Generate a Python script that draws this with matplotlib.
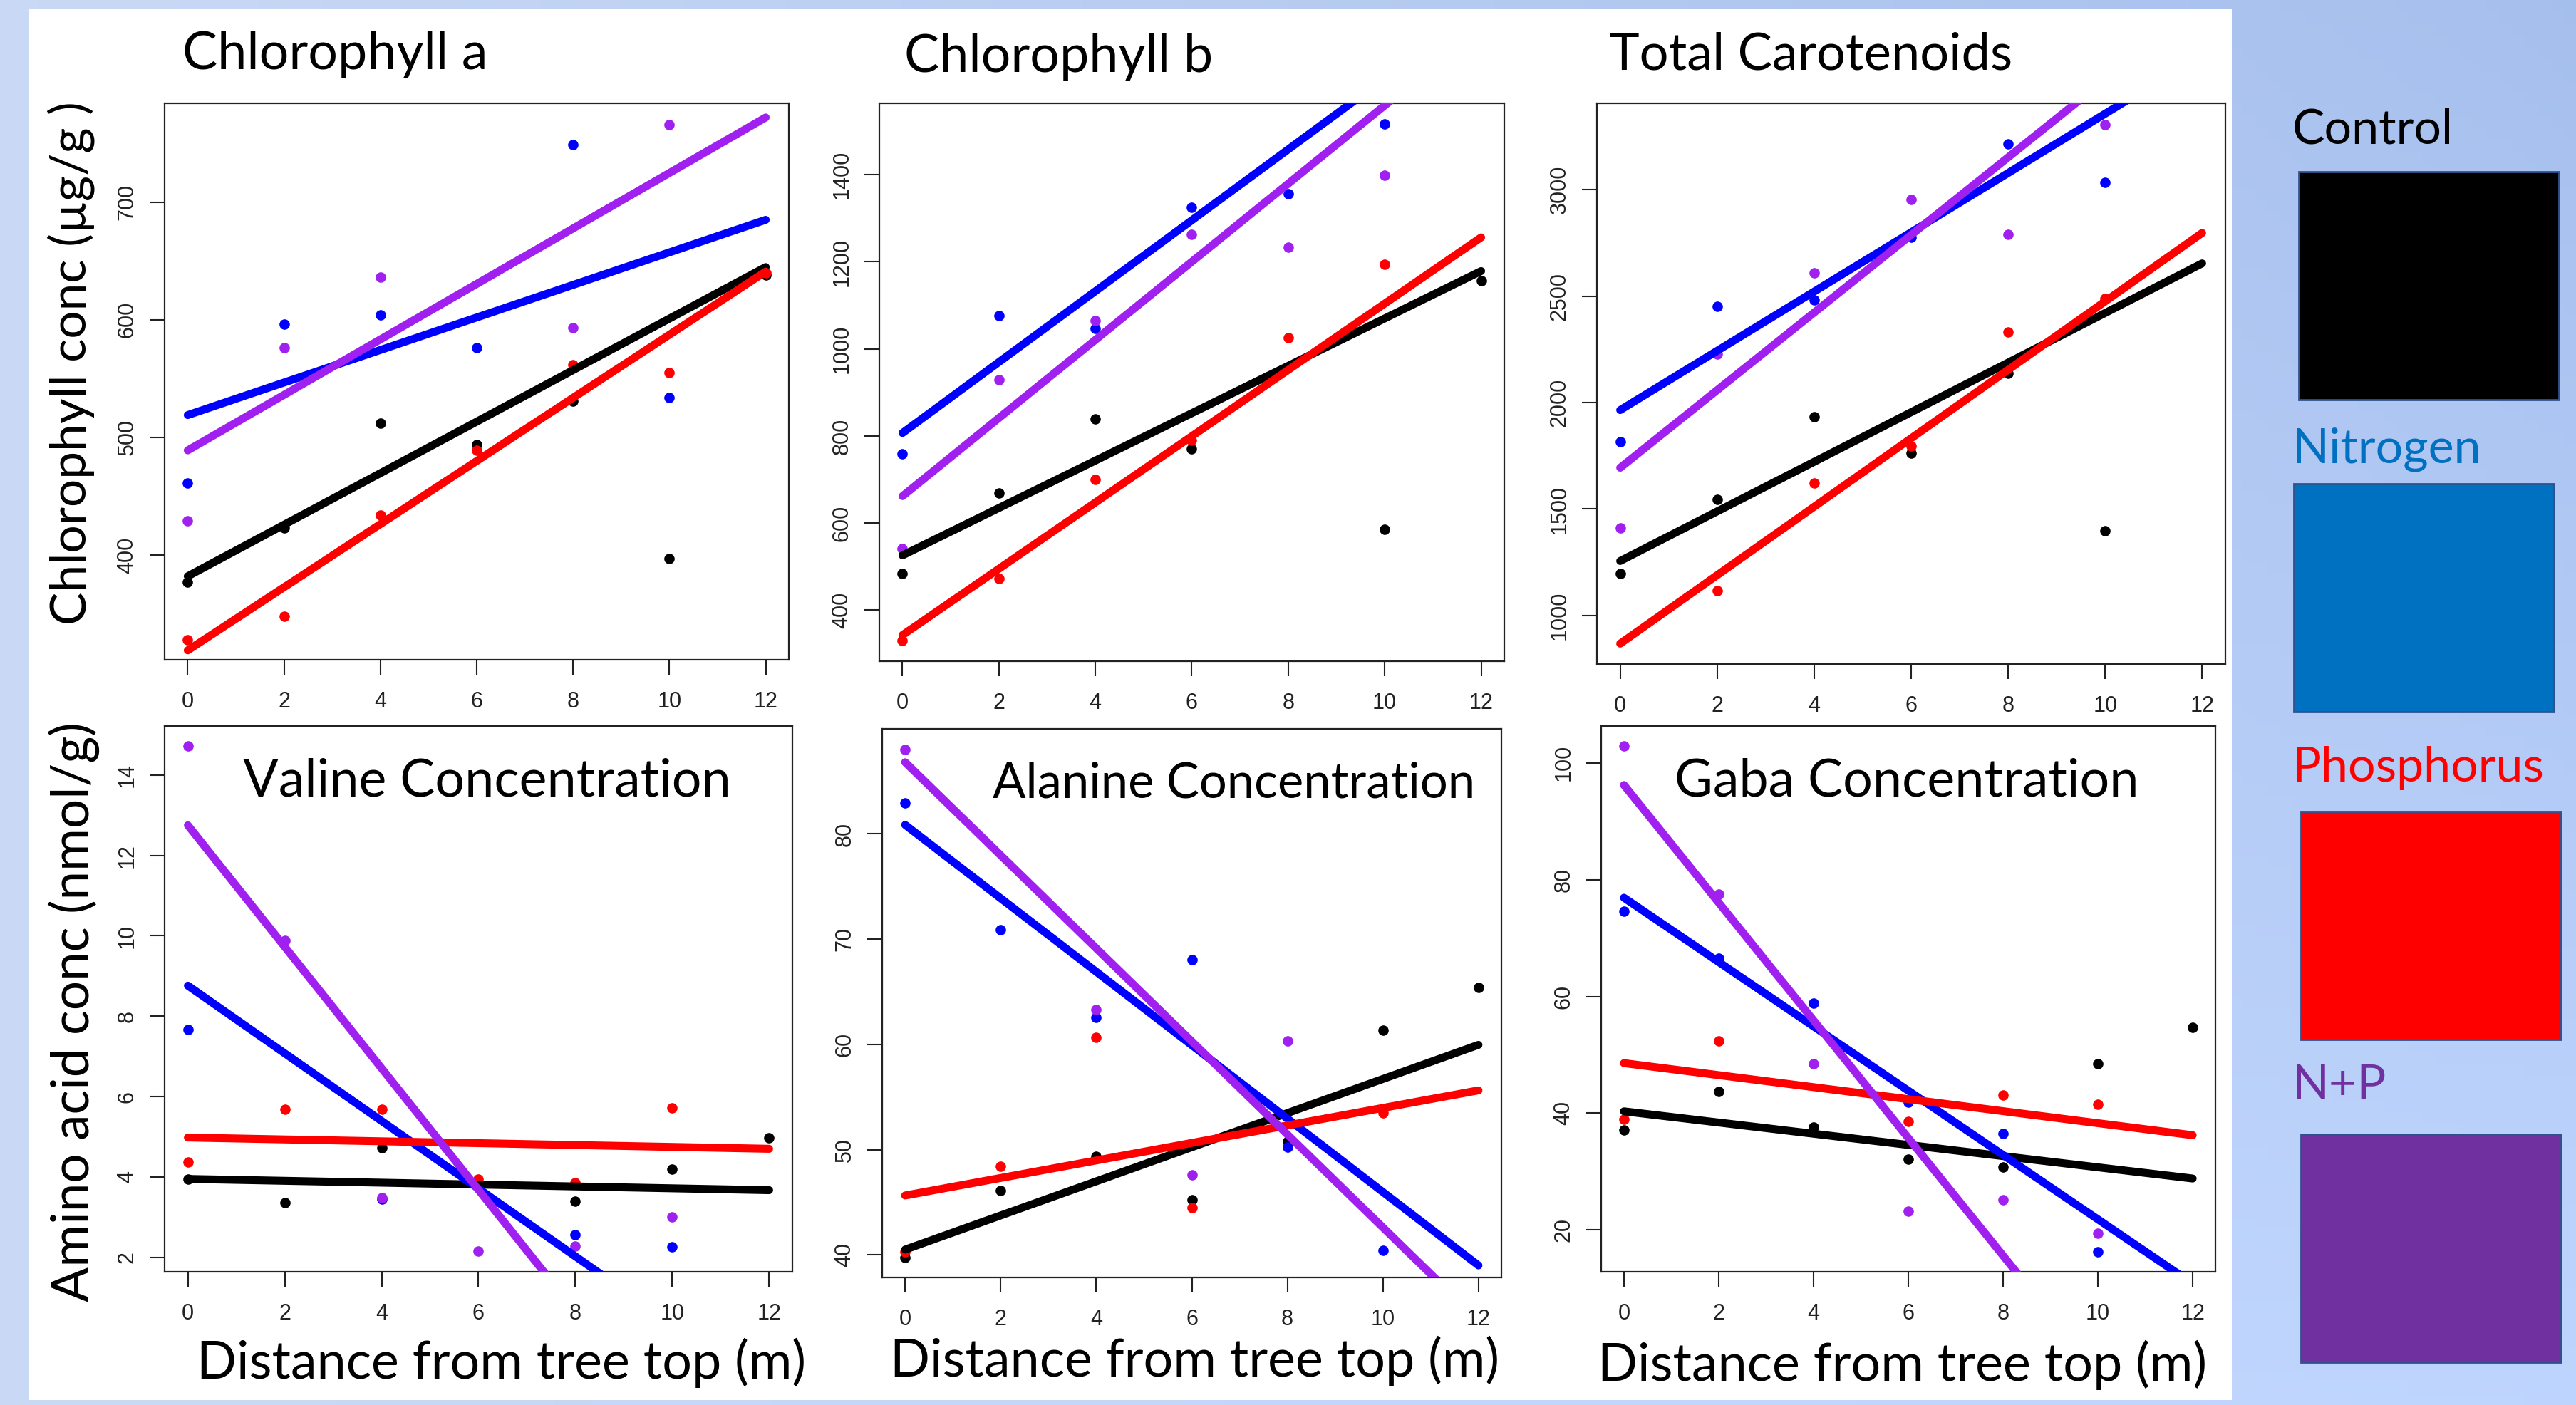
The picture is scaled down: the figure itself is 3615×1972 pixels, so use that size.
import numpy as np
import matplotlib.pyplot as plt
from matplotlib.patches import Rectangle

nan = np.nan
W, H = 3616, 1972

dist = [0, 2, 4, 6, 8, 10, 12]
treatments = ["Control", "Nitrogen", "Phosphorus", "N+P"]

# points per treatment (control, nitrogen, phosphorus, N+P)
chla_pts = [[377, 423, 512, 494, 531, 397, 638],
            [461, 596, 604, 576, 749, 534, nan],
            [328, 348, 434, 489, 562, 555, 640],
            [429, 576, 636, nan, 593, 766, nan]]
chla_fit = [(382, 21.9), (519, 13.83), (319, 26.83), (489, 23.58)]

chlb_pts = [[485, 669, 840, 771, nan, 586, 1157],
            [759, 1076, 1047, 1325, 1356, 1517, nan],
            [330, 473, 701, 790, 1026, 1194, nan],
            [541, 930, 1065, 1263, 1233, 1399, nan]]
chlb_fit = [(526, 54.4), (807, 81.4), (343, 76.1), (662, 89.7)]

carot_pts = [[1196, 1544, 1935, 1762, 2136, 1399, nan],
             [1815, 2451, 2483, 2776, 3214, 3036, nan],
             [nan, 1117, 1623, 1796, 2332, 2490, nan],
             [1410, 2227, 2609, 2955, 2789, 3305, nan]]
carot_fit = [(1256, 116.5), (1965, 139.2), (868, 160.75), (1694, 182.3)]

valine_pts = [[3.95, 3.36, 4.73, nan, 3.39, 4.20, 4.97],
              [7.66, nan, 3.45, nan, 2.56, 2.26, nan],
              [4.37, 5.68, 5.68, 3.94, 3.85, 5.71, nan],
              [14.72, 9.89, 3.49, 2.15, 2.27, 3.00, nan]]
valine_fit = [(3.95, -0.0233), (8.76, -0.842), (4.98, -0.0233), (12.75, -1.512)]

alanine_pts = [[39.74, 46.12, 49.38, 45.22, 50.79, 61.33, 65.44],
               [82.91, 70.92, 62.57, 68.05, 50.28, 40.43, nan],
               [40.3, 48.44, 60.64, 44.50, nan, 53.49, nan],
               [88.05, nan, 63.30, 47.62, 60.30, nan, nan]]
alanine_fit = [(40.51, 1.621), (80.86, -3.488), (45.65, 0.832), (86.81, -4.42)]

gaba_pts = [[37.14, 43.71, 37.6, 32.05, 30.81, 48.42, 54.75],
            [74.59, 66.48, 58.84, 41.85, 36.53, 16.29, nan],
            [39.0, 52.43, nan, 38.53, 43.09, 41.47, nan],
            [102.86, 77.53, 48.42, 23.24, 25.10, 19.38, nan]]
gaba_fit = [(40.31, -0.959), (76.91, -5.51), (48.57, -1.029), (96.22, -10.08)]

line_cols = ["black", "blue", "red", "#A020F0"]
box_cols = ["#000000", "#0070C0", "#FF0000", "#7030A0"]
label_cols = ["#000000", "#0070C0", "#FF0000", "#7030A0"]

slide_font = ["Lato", "DejaVu Sans"]
tick_font = ["Liberation Sans", "DejaVu Sans"]

fig = plt.figure(figsize=(W / 100, H / 100), dpi=100)

# background gradient
bg = fig.add_axes([0, 0, 1, 1], zorder=-10)
gx = np.linspace(0, 1, 200)
gy = np.linspace(0, 1, 120)
GX, GY = np.meshgrid(gx, gy)
c1 = np.array([0.79, 0.85, 0.96])
c2 = np.array([0.65, 0.75, 0.93])
t = np.clip(0.75 * GX + 0.25 * (1 - GY) * GX, 0, 1)[..., None]
img = c1 * (1 - t) + c2 * t
img = img + (GY[..., None] * 0.06 * GX[..., None])
bg.imshow(np.clip(img, 0, 1), extent=[0, 1, 0, 1], aspect="auto", origin="upper")
bg.add_patch(Rectangle((40 / W, 1 - 1965 / H), (3132 - 40) / W, (1965 - 12) / H,
                       facecolor="white", edgecolor="none"))
bg.set_xlim(0, 1)
bg.set_ylim(0, 1)
bg.axis("off")


def px_axes(x0, y0, x1, y1):
    return fig.add_axes([x0 / W, 1 - y1 / H, (x1 - x0) / W, (y1 - y0) / H])


def draw_panel(rect, pts, fits, ylim, yticks):
    ax = px_axes(*rect)
    xs = np.array(dist, dtype=float)
    for vals, col in zip(pts, line_cols):
        ax.plot(xs, vals, "o", color=col, markersize=9.5, zorder=2)
    xl = np.array([0, 12])
    for (b, m), col in zip(fits, line_cols):
        ax.plot(xl, b + m * xl, "-", color=col, lw=8, solid_capstyle="round", zorder=3)
    ax.set_xlim(-0.48, 12.48)
    ax.set_ylim(*ylim)
    ax.set_xticks(dist)
    ax.set_yticks(yticks)
    ax.tick_params(length=15, width=1.5, color="#222222", labelcolor="#222222",
                   labelsize=22, pad=17)
    ax.tick_params(axis="y", pad=12)
    for lab in ax.get_xticklabels() + ax.get_yticklabels():
        lab.set_family(tick_font)
    for lab in ax.get_yticklabels():
        lab.set_rotation(90)
        lab.set_va("center")
    for s in ax.spines.values():
        s.set_linewidth(1.6)
        s.set_color("#222222")
    return ax


draw_panel((231, 145, 1107, 926), chla_pts, chla_fit, (311, 784), [400, 500, 600, 700])
draw_panel((1234, 145, 2111, 928), chlb_pts, chlb_fit, (283, 1564),
           [400, 600, 800, 1000, 1200, 1400])
draw_panel((2241, 145, 3123, 932), carot_pts, carot_fit, (772, 3406),
           [1000, 1500, 2000, 2500, 3000])
draw_panel((231, 1019, 1112, 1785), valine_pts, valine_fit, (1.64, 15.22),
           [2, 4, 6, 8, 10, 12, 14])
draw_panel((1238, 1023, 2107, 1793), alanine_pts, alanine_fit, (37.86, 89.98),
           [40, 50, 60, 70, 80])
draw_panel((2247, 1019, 3109, 1785), gaba_pts, gaba_fit, (12.82, 106.33),
           [20, 40, 60, 80, 100])


def ftext(x, y, s, **kw):
    kw.setdefault("family", slide_font)
    kw.setdefault("fontsize", 53)
    fig.text(x / W, 1 - y / H, s, **kw)


# titles
ftext(256, 76, "Chlorophyll a", va="center", ha="left")
ftext(1269, 80, "Chlorophyll b", va="center", ha="left")
ftext(2258, 77, "Total Carotenoids", va="center", ha="left", fontsize=52)
ftext(683, 1097, "Valine Concentration", va="center", ha="center", zorder=5)
ftext(1732, 1100, "Alanine Concentration", va="center", ha="center", zorder=5,
      fontsize=49.5)
ftext(2676, 1097, "Gaba Concentration", va="center", ha="center", zorder=5)

# axis labels
ftext(100, 510, "Chlorophyll conc (\u00b5g/g )", rotation=90, va="center",
      ha="center", fontsize=50)
ftext(104, 1420, "Amino acid conc (nmol/g)", rotation=90, va="center",
      ha="center", fontsize=52.5)
ftext(704, 1913, "Distance from tree top (m)", va="center", ha="center")
ftext(1677, 1910, "Distance from tree top (m)", va="center", ha="center")
ftext(2670, 1916, "Distance from tree top (m)", va="center", ha="center")

# legend
label_y = [182, 631, 1078, 1524]
box_y = [(241, 561), (679, 999), (1139, 1459), (1592, 1912)]
box_x = [(3226, 3591), (3219, 3584), (3229, 3594), (3229, 3594)]
for name, lc, bc, ly, (y0, y1), (x0, x1) in zip(treatments, label_cols, box_cols,
                                                 label_y, box_y, box_x):
    ftext(3217, ly, name, color=lc, va="center", ha="left", fontsize=49)
    fig.patches.append(Rectangle((x0 / W, 1 - y1 / H), (x1 - x0) / W, (y1 - y0) / H,
                                 transform=fig.transFigure, facecolor=bc,
                                 edgecolor="#2F528F", linewidth=2))

fig.savefig("out.png", dpi=100)
